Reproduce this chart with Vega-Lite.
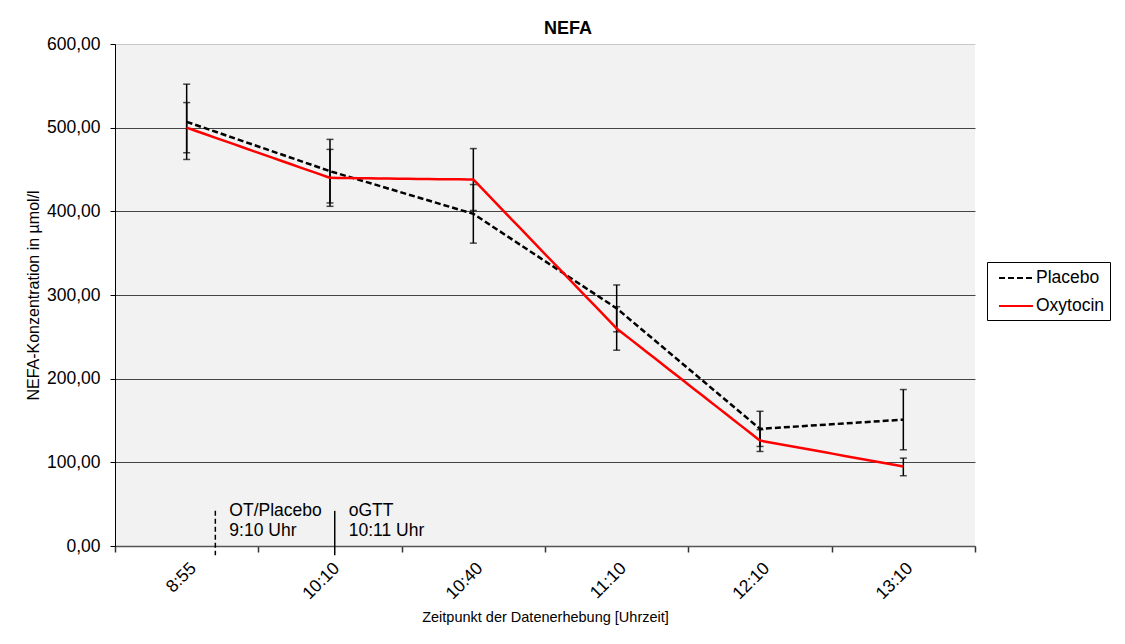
{
  "$schema": "https://vega.github.io/schema/vega-lite/v6.json",
  "autosize": "none",
  "padding": {"left": 115, "top": 44, "right": 150, "bottom": 98},
  "width": 860,
  "height": 502,
  "background": "white",
  "config": {
    "font": "Liberation Sans",
    "view": {"fill": "#f2f2f2", "stroke": null},
    "axis": {"labelColor": "black", "titleColor": "black", "labelFont": "Liberation Sans", "titleFont": "Liberation Sans", "titleFontWeight": "normal"}
  },
  "title": {"text": "NEFA", "fontSize": 18, "fontWeight": "bold", "color": "black", "anchor": "middle", "frame": "bounds", "offset": -3},
  "datasets": {
    "nefa": [
      {"time": "8:55", "group": "Placebo", "mean": 507, "lo": 462, "hi": 552},
      {"time": "10:10", "group": "Placebo", "mean": 448, "lo": 410, "hi": 486},
      {"time": "10:40", "group": "Placebo", "mean": 397, "lo": 362, "hi": 432},
      {"time": "11:10", "group": "Placebo", "mean": 284, "lo": 256, "hi": 312},
      {"time": "12:10", "group": "Placebo", "mean": 140, "lo": 119, "hi": 161},
      {"time": "13:10", "group": "Placebo", "mean": 151, "lo": 115, "hi": 187},
      {"time": "8:55", "group": "Oxytocin", "mean": 500, "lo": 470, "hi": 530},
      {"time": "10:10", "group": "Oxytocin", "mean": 440, "lo": 406, "hi": 474},
      {"time": "10:40", "group": "Oxytocin", "mean": 438, "lo": 401, "hi": 475},
      {"time": "11:10", "group": "Oxytocin", "mean": 260, "lo": 234, "hi": 286},
      {"time": "12:10", "group": "Oxytocin", "mean": 126, "lo": 113, "hi": 139},
      {"time": "13:10", "group": "Oxytocin", "mean": 95, "lo": 84, "hi": 105}
    ],
    "events": [
      {"event": "OT/Placebo\n9:10 Uhr", "slot": 1.2, "kind": "dashed"},
      {"event": "oGTT\n10:11 Uhr", "slot": 2.033, "kind": "solid"}
    ]
  },
  "layer": [
    {
      "data": {"name": "nefa"},
      "encoding": {
        "x": {
          "field": "time", "type": "ordinal",
          "sort": ["8:55", "10:10", "10:40", "11:10", "12:10", "13:10"],
          "scale": {"type": "band", "paddingInner": 0, "paddingOuter": 0},
          "axis": {
            "title": "Zeitpunkt der Datenerhebung [Uhrzeit]", "titleFontSize": 14.5, "titlePadding": 8,
            "labelAngle": -45, "labelFontSize": 17.5, "labelPadding": 7,
            "tickBand": "extent", "tickSize": 6, "tickColor": "#333", "tickWidth": 1.5,
            "domainColor": "#555", "domainWidth": 1.5, "grid": false
          }
        }
      },
      "layer": [
        {
          "mark": {"type": "rule", "color": "black", "strokeWidth": 1.5},
          "encoding": {
            "y": {
              "field": "lo", "type": "quantitative",
              "scale": {"domain": [0, 600], "nice": false},
              "axis": {
                "title": "NEFA-Konzentration in µmol/l", "titleFontSize": 16, "titlePadding": 5,
                "values": [0, 100, 200, 300, 400, 500, 600],
                "labelExpr": "replace(format(datum.value, '.2f'), '.', ',')",
                "labelFontSize": 17.5, "labelPadding": 10,
                "tickSize": 5, "tickColor": "black", "domainColor": "black",
                "grid": true, "gridWidth": 1,
                "gridColor": {"condition": {"test": "datum.value == 600", "value": "#c8c8c8"}, "value": "#444"}
              }
            },
            "y2": {"field": "hi"}
          }
        },
        {
          "mark": {"type": "tick", "orient": "horizontal", "color": "black", "size": 7, "thickness": 1.5},
          "encoding": {"y": {"field": "lo", "type": "quantitative"}}
        },
        {
          "mark": {"type": "tick", "orient": "horizontal", "color": "black", "size": 7, "thickness": 1.5},
          "encoding": {"y": {"field": "hi", "type": "quantitative"}}
        },
        {
          "mark": {"type": "line", "strokeWidth": 2.5},
          "encoding": {
            "y": {"field": "mean", "type": "quantitative"},
            "color": {
              "field": "group", "type": "nominal",
              "scale": {"domain": ["Placebo", "Oxytocin"], "range": ["black", "#ff0000"]},
              "legend": {
                "title": null, "orient": "none", "legendX": 872, "legendY": 218,
                "fillColor": "white", "strokeColor": "black", "padding": 5,
                "symbolType": "M-1.7,0H1.7", "symbolSize": 400, "symbolStrokeWidth": 2,
                "symbolOffset": 13, "labelOffset": 9, "rowPadding": 8,
                "labelFontSize": 17.5, "labelColor": "black", "labelFont": "Liberation Sans"
              }
            },
            "strokeDash": {
              "field": "group", "type": "nominal",
              "scale": {"domain": ["Placebo", "Oxytocin"], "range": [[6, 3], [10, 0]]},
              "legend": {
                "title": null, "orient": "none", "legendX": 872, "legendY": 218,
                "fillColor": "white", "strokeColor": "black", "padding": 5,
                "symbolType": "M-1.7,0H1.7", "symbolSize": 400, "symbolStrokeWidth": 2,
                "symbolOffset": 13, "labelOffset": 9, "rowPadding": 8,
                "labelFontSize": 17.5, "labelColor": "black", "labelFont": "Liberation Sans"
              }
            }
          }
        }
      ]
    },
    {
      "data": {"name": "events"},
      "encoding": {
        "x": {"field": "slot", "type": "quantitative", "scale": {"domain": [0.5, 6.5], "nice": false, "zero": false}, "axis": null}
      },
      "layer": [
        {
          "transform": [{"filter": "datum.kind == 'dashed'"}],
          "mark": {"type": "rule", "color": "black", "strokeWidth": 1.5, "strokeDash": [5, 3], "clip": false},
          "encoding": {
            "y": {"datum": 42, "type": "quantitative"},
            "y2": {"datum": -11}
          }
        },
        {
          "transform": [{"filter": "datum.kind == 'solid'"}],
          "mark": {"type": "rule", "color": "black", "strokeWidth": 1.5, "clip": false},
          "encoding": {
            "y": {"datum": 42, "type": "quantitative"},
            "y2": {"datum": -11}
          }
        },
        {
          "mark": {"type": "text", "align": "left", "baseline": "top", "dx": 14, "fontSize": 17.5, "lineBreak": "\n", "lineHeight": 20, "color": "black", "font": "Liberation Sans"},
          "encoding": {
            "y": {"datum": 53, "type": "quantitative"},
            "text": {"field": "event"}
          }
        }
      ]
    }
  ],
  "resolve": {"scale": {"x": "independent"}}
}
